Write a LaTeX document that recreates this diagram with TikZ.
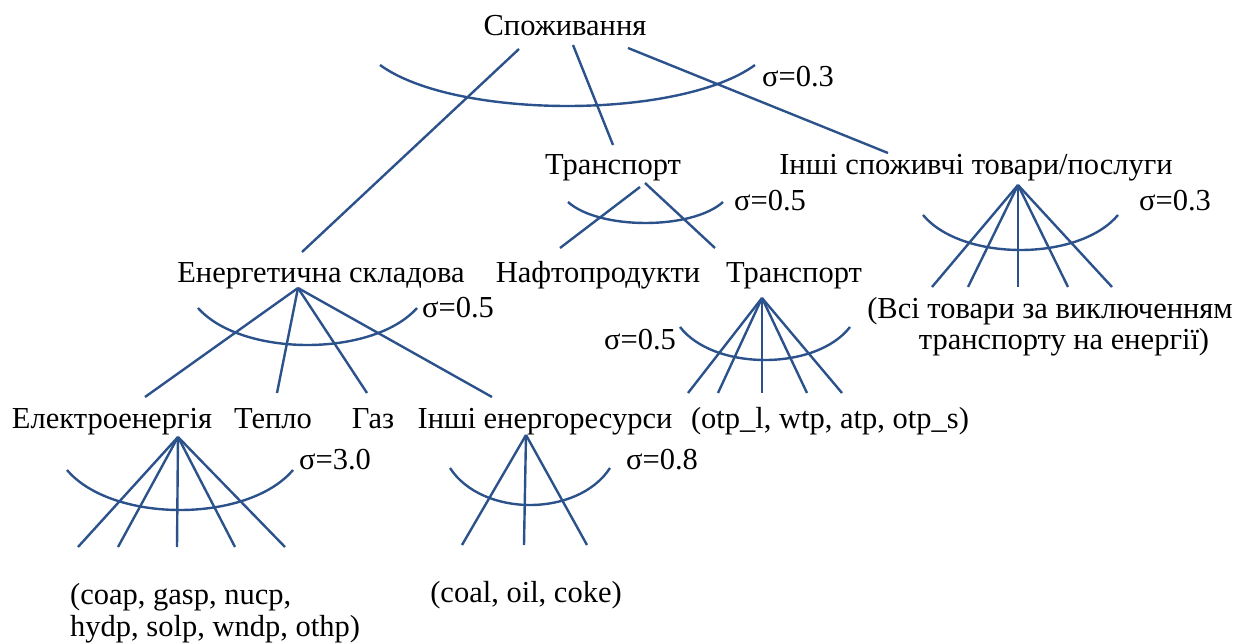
\documentclass[tikz,border=0pt]{standalone}
\usepackage{fontspec}
\setmainfont{Liberation Serif}
\definecolor{lc}{RGB}{44,82,140}
\newcommand\mybowl[4]{\draw[ln] (#1,#3) .. controls ({#1+0.2*(#2-#1)},{(4*#4-#3)/3}) and ({#2-0.2*(#2-#1)},{(4*#4-#3)/3}) .. (#2,#3);}
\begin{document}
\begin{tikzpicture}[x=1pt,y=-1pt,
  ln/.style={draw=lc,line width=2.4pt},
  lbl/.style={inner sep=0pt,anchor=base,font=\fontsize{30.5}{34}\selectfont},
  lbll/.style={lbl,anchor=base west}]
\useasboundingbox (0,0) rectangle (1236,644);
% labels
\node[lbl] (root) at (565,36) {Споживання};
\node[lbl] (tr1) at (613,175) {Транспорт};
\node[lbl] (oth) at (976,175) {Інші споживчі товари/послуги};
\node[lbl] (s1) at (798,87) {σ=0.3};
\node[lbl] (s2) at (770,211) {σ=0.5};
\node[lbl] (s3) at (1175,211) {σ=0.3};
\node[lbl] (all1) at (1050,318) {(Всі товари за виключенням};
\node[lbl] (all2) at (1064,349) {транспорту на енергії)};
\node[lbl] (en) at (321,282) {Енергетична складова};
\node[lbl] (oil) at (598,282) {Нафтопродукти};
\node[lbl] (tr2) at (794,282) {Транспорт};
\node[lbl] (s4) at (458,317) {σ=0.5};
\node[lbl] (s5) at (640,349) {σ=0.5};
\node[lbl] (el) at (112,428) {Електроенергія};
\node[lbl] (heat) at (273,428) {Тепло};
\node[lbl] (gas) at (373,428) {Газ};
\node[lbl] (oen) at (545,428) {Інші енергоресурси};
\node[lbl] (otp) at (830,428) {(otp\_l, wtp, atp, otp\_s)};
\node[lbl] (s6) at (335,469) {σ=3.0};
\node[lbl] (s7) at (662,469) {σ=0.8};
\node[lbll] (el1) at (70,604) {(coap, gasp, nucp,};
\node[lbll] (el2) at (70,636) {hydp, solp, wndp, othp)};
\node[lbl] (coal) at (526,602) {(coal, oil, coke)};
% top level
\coordinate (r1) at (519,49); \coordinate (r1e) at (302,252);
\coordinate (r2) at (573,45); \coordinate (r2e) at (613,145);
\coordinate (r3) at (628,48); \coordinate (r3e) at (888,153);
\draw[ln] (r1) -- (r1e);
\draw[ln] (r2) -- (r2e);
\draw[ln] (r3) -- (r3e);
\mybowl{380}{755}{65}{106}
% transport
\coordinate (ta) at (640,187); \coordinate (tae) at (560,248);
\coordinate (tb) at (645,183); \coordinate (tbe) at (715,248);
\draw[ln] (ta) -- (tae);
\draw[ln] (tb) -- (tbe);
\mybowl{568}{723}{202}{223}
% other goods
\coordinate (oa) at (1018,185);
\foreach \x [count=\i] in {932,968,1018,1068,1112}{
  \coordinate (oe\i) at (\x,287);
  \draw[ln] (oa) -- (oe\i);}
\mybowl{923}{1118}{215}{250}
% energy
\coordinate (ea) at (298,288);
\coordinate (ee1) at (145,397); \coordinate (ee2) at (277,393);
\coordinate (ee3) at (367,393); \coordinate (ee4) at (492,397);
\foreach \i in {1,...,4}{\draw[ln] (ea) -- (ee\i);}
\mybowl{198}{417}{308}{345}
% transport 2
\coordinate (t2a) at (762,298);
\foreach \x [count=\i] in {688,718,762,807,842}{
  \coordinate (t2e\i) at (\x,393);
  \draw[ln] (t2a) -- (t2e\i);}
\mybowl{680}{850}{327}{360}
% electricity
\coordinate (ela) at (178,437);
\foreach \x [count=\i] in {78,118,177,235,285}{
  \coordinate (ele\i) at (\x,547);
  \draw[ln] (ela) -- (ele\i);}
\mybowl{67}{293}{470}{510}
% other energy
\coordinate (oea) at (526,435);
\foreach \x [count=\i] in {462,524,587}{
  \coordinate (oee\i) at (\x,545);
  \draw[ln] (oea) -- (oee\i);}
\mybowl{450}{610}{468}{505}
\end{tikzpicture}
\end{document}
